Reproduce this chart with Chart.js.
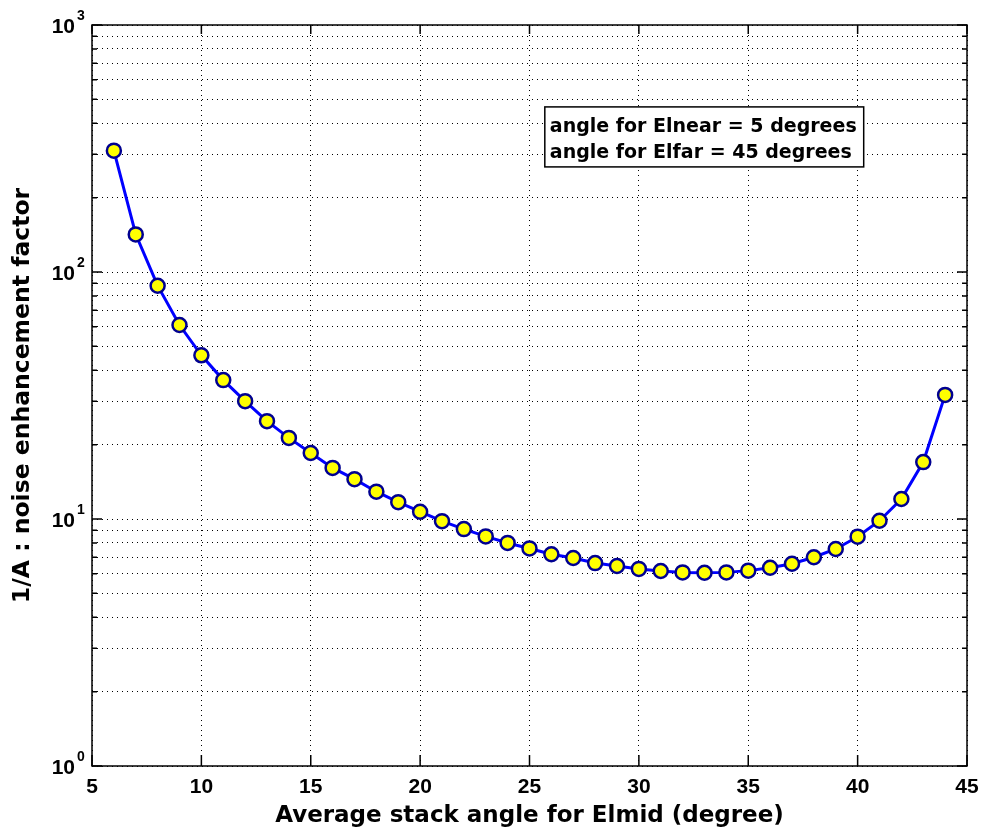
<!DOCTYPE html>
<html>
<head>
<meta charset="utf-8">
<script src="https://cdn.jsdelivr.net/npm/chart.js@4.4.0/dist/chart.umd.min.js"></script>
<style>
  body { margin: 0; background: #fff; }
</style>
</head>
<body>
<canvas id="chartNoise" width="981" height="835"></canvas>
<script>
// values
const angles = [6, 7, 8, 9, 10, 11, 12, 13, 14, 15, 16, 17, 18, 19, 20, 21, 22, 23, 24, 25,
  26, 27, 28, 29, 30, 31, 32, 33, 34, 35, 36, 37, 38, 39, 40, 41, 42, 43, 44];
const factors = [310, 142, 88, 61, 46, 36.5, 30, 24.9, 21.3, 18.5, 16.1, 14.5, 12.9, 11.7, 10.7,
  9.8, 9.1, 8.5, 8.0, 7.6, 7.2, 6.95, 6.63, 6.45, 6.28, 6.16, 6.08, 6.06, 6.08, 6.18, 6.35,
  6.59, 7.0, 7.56, 8.48, 9.84, 12.05, 17.0, 31.8];
const xTicks = [5, 10, 15, 20, 25, 30, 35, 40, 45];
const decades = [1, 10, 100, 1000];
const noteLines = ['angle for Elnear = 5 degrees', 'angle for Elfar = 45 degrees'];

const police = '"Liberation Sans", Arial, sans-serif';
const policeLarge = '"DejaVu Sans", Verdana, sans-serif';

// 1..9 in every decade, for the dotted grid
const yTicks = [];
decades.forEach(d => {
  for (let m = 1; m <= 9; m++) {
    if (d * m <= 1000) yTicks.push(d * m);
  }
});

const points = angles.map((a, i) => ({ x: a, y: factors[i] }));

const cadrePlugin = {
  id: 'cadre',
  afterDraw(chart) {
    const ctx = chart.ctx;
    const area = chart.chartArea;
    const xs = chart.scales.x;
    const ys = chart.scales.y;
    ctx.save();

    // box round the plot
    ctx.strokeStyle = '#000';
    ctx.lineWidth = 1.5;
    ctx.strokeRect(area.left, area.top, area.right - area.left, area.bottom - area.top);

    // inward ticks
    ctx.beginPath();
    xTicks.forEach(v => {
      const px = xs.getPixelForValue(v);
      ctx.moveTo(px, area.bottom); ctx.lineTo(px, area.bottom - 11);
      ctx.moveTo(px, area.top); ctx.lineTo(px, area.top + 9);
    });
    yTicks.forEach(v => {
      const py = ys.getPixelForValue(v);
      const len = decades.includes(v) ? 10 : 5;
      ctx.moveTo(area.left, py); ctx.lineTo(area.left + len, py);
      ctx.moveTo(area.right, py); ctx.lineTo(area.right - len, py);
    });
    ctx.stroke();

    // y labels 10^n
    ctx.fillStyle = '#000';
    ctx.textBaseline = 'alphabetic';
    decades.forEach((v, n) => {
      const py = ys.getPixelForValue(v);
      ctx.font = 'bold 21px ' + police;
      ctx.textAlign = 'right';
      ctx.fillText('10', 75, py + 8);
      ctx.font = 'bold 14px ' + police;
      ctx.textAlign = 'left';
      ctx.fillText(String(n), 77, py - 5);
    });

    // note box
    ctx.font = 'bold 19px ' + policeLarge;
    const largeur = Math.max(...noteLines.map(t => ctx.measureText(t).width));
    const bx = xs.getPixelForValue(25.7);
    const by = ys.getPixelForValue(466);
    const bw = largeur + 12;
    const bh = 60;
    ctx.fillStyle = '#fff';
    ctx.fillRect(bx, by, bw, bh);
    ctx.strokeStyle = '#000';
    ctx.lineWidth = 1.5;
    ctx.strokeRect(bx, by, bw, bh);
    ctx.fillStyle = '#000';
    ctx.textAlign = 'left';
    noteLines.forEach((t, i) => {
      ctx.fillText(t, bx + 5, by + 25 + i * 26);
    });

    ctx.restore();
  }
};

const zone = document.getElementById('chartNoise');
new Chart(zone, {
  type: 'line',
  data: {
    datasets: [{
      data: points,
      borderColor: '#0000ff',
      borderWidth: 3,
      pointRadius: 7,
      pointHoverRadius: 7,
      pointBorderWidth: 2.5,
      pointBorderColor: '#000090',
      pointBackgroundColor: '#ffff00',
      tension: 0
    }]
  },
  options: {
    responsive: false,
    animation: false,
    devicePixelRatio: 1,
    layout: { padding: { top: 25, right: 14, left: 0, bottom: 0 } },
    plugins: {
      legend: { display: false },
      tooltip: { enabled: false }
    },
    scales: {
      x: {
        type: 'linear',
        min: 5,
        max: 45,
        afterBuildTicks: scale => { scale.ticks = xTicks.map(v => ({ value: v })); },
        afterFit: scale => {
          scale.height = 69;
          scale.paddingLeft = 0;
          scale.paddingRight = 0;
        },
        ticks: {
          color: '#000',
          padding: 9,
          font: { family: police, size: 21, weight: 'bold' }
        },
        grid: {
          color: '#000',
          lineWidth: 1,
          drawTicks: false
        },
        border: { display: false, dash: [1, 4] },
        title: {
          display: true,
          text: 'Average stack angle for Elmid (degree)',
          color: '#000',
          padding: { top: 0, bottom: 5 },
          font: { family: policeLarge, size: 23, weight: 'bold' }
        }
      },
      y: {
        type: 'logarithmic',
        min: 1,
        max: 1000,
        afterBuildTicks: scale => { scale.ticks = yTicks.map(v => ({ value: v })); },
        afterFit: scale => { scale.width = 92; },
        ticks: { display: false },
        grid: {
          color: '#000',
          lineWidth: 1,
          drawTicks: false
        },
        border: { display: false, dash: [1, 4] },
        title: {
          display: true,
          text: '1/A : noise enhancement factor',
          color: '#000',
          padding: { top: 9, bottom: 0 },
          font: { family: policeLarge, size: 23.5, weight: 'bold' }
        }
      }
    }
  },
  plugins: [cadrePlugin]
});
</script>
</body>
</html>
